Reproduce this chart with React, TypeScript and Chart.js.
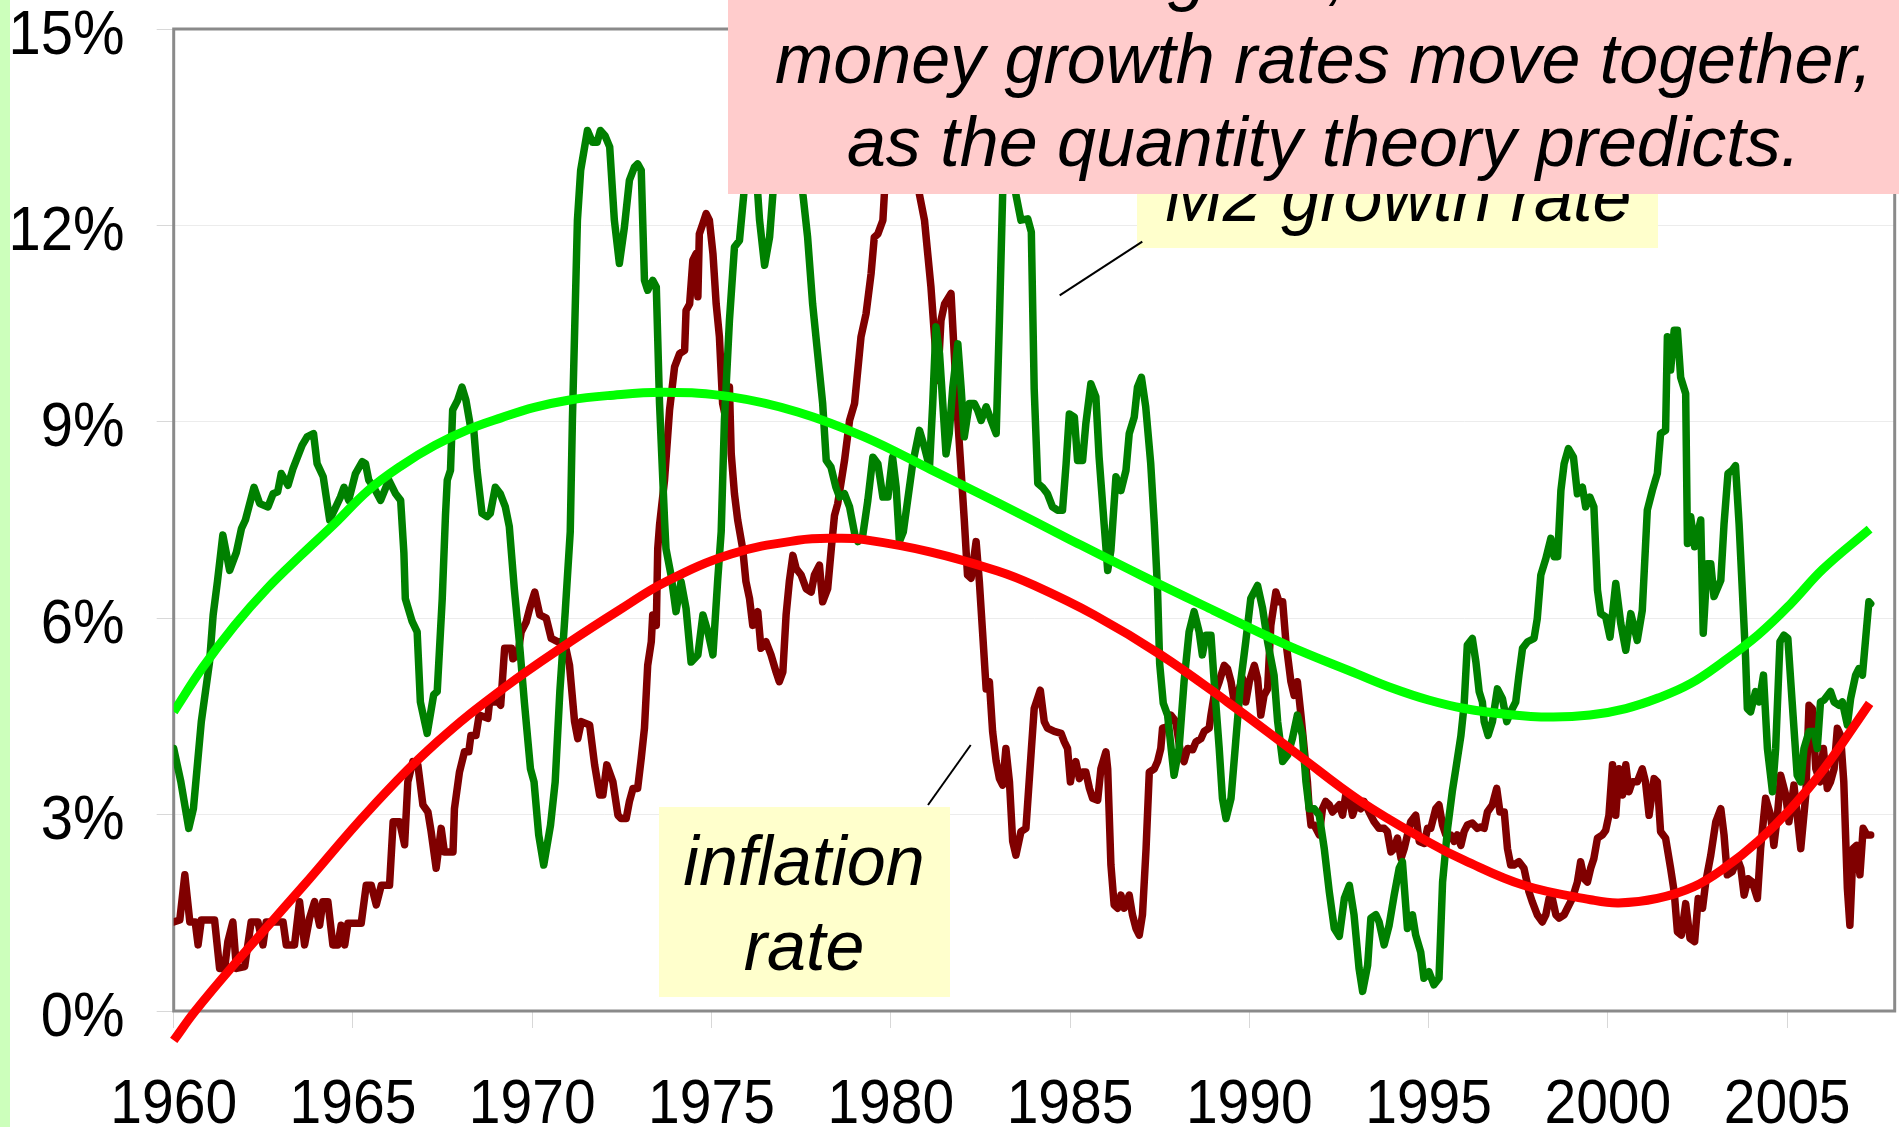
import React, { useEffect, useRef } from 'react';
import { Chart, registerables } from 'chart.js';

Chart.register(...registerables);

// ---- tick labels ----
const xTickYears = [1960, 1965, 1970, 1975, 1980, 1985, 1990, 1995, 2000, 2005];
const yTickValues = [0, 3, 6, 9, 12, 15];

// ---- M2 growth rate (year, % per year) ----
const m2Growth: [number, number][] = [
  [1960.0, 4.01], [1960.2, 3.5], [1960.42, 2.79], [1960.55, 3.09], [1960.77, 4.42], [1961.0, 5.33],
  [1961.1, 6.05], [1961.22, 6.56], [1961.37, 7.27], [1961.56, 6.73], [1961.75, 7.01], [1961.89, 7.37],
  [1962.0, 7.5], [1962.24, 8.0], [1962.4, 7.75], [1962.63, 7.7], [1962.77, 7.9], [1962.9, 7.93],
  [1963.0, 8.21], [1963.19, 8.03], [1963.33, 8.29], [1963.58, 8.64], [1963.72, 8.77], [1963.9, 8.82],
  [1964.0, 8.36], [1964.17, 8.16], [1964.35, 7.5], [1964.65, 7.85], [1964.75, 8.0], [1964.88, 7.8],
  [1965.07, 8.21], [1965.26, 8.39], [1965.35, 8.36], [1965.44, 8.11], [1965.58, 8.0], [1965.77, 7.8],
  [1966.0, 8.11], [1966.19, 7.9], [1966.33, 7.8], [1966.42, 7.0], [1966.46, 6.3], [1966.65, 5.95],
  [1966.79, 5.79], [1966.88, 4.72], [1967.07, 4.24], [1967.25, 4.83], [1967.35, 4.88], [1967.49, 6.3],
  [1967.58, 7.57], [1967.63, 8.11], [1967.72, 8.26], [1967.78, 9.18], [1967.92, 9.33], [1968.04, 9.53],
  [1968.15, 9.33], [1968.28, 8.92], [1968.37, 8.87], [1968.46, 8.26], [1968.6, 7.6], [1968.74, 7.55],
  [1968.83, 7.6], [1968.97, 8.0], [1969.11, 7.9], [1969.25, 7.7], [1969.36, 7.4], [1969.5, 6.45],
  [1969.64, 5.64], [1969.78, 4.72], [1969.95, 3.7], [1970.05, 3.5], [1970.18, 2.69], [1970.32, 2.23],
  [1970.51, 2.84], [1970.64, 3.5], [1970.77, 4.88], [1970.92, 6.1], [1971.06, 7.32], [1971.12, 9.02],
  [1971.26, 12.08], [1971.35, 12.84], [1971.54, 13.45], [1971.68, 13.27], [1971.81, 13.27], [1971.9, 13.45],
  [1972.03, 13.37], [1972.16, 13.2], [1972.29, 12.08], [1972.43, 11.42], [1972.57, 11.97], [1972.71, 12.69],
  [1972.85, 12.89], [1972.94, 12.94], [1973.04, 12.84], [1973.13, 11.16], [1973.22, 11.01], [1973.36, 11.16],
  [1973.46, 11.06], [1973.55, 9.28], [1973.69, 7.5], [1973.73, 7.06], [1973.87, 6.66], [1974.01, 6.1],
  [1974.15, 6.56], [1974.29, 6.15], [1974.43, 5.33], [1974.62, 5.44], [1974.76, 6.05], [1974.9, 5.79],
  [1975.04, 5.44], [1975.17, 6.56], [1975.27, 7.32], [1975.36, 9.02], [1975.5, 10.55], [1975.64, 11.67],
  [1975.78, 11.77], [1975.92, 12.59], [1976.1, 13.6], [1976.25, 12.8], [1976.34, 12.08], [1976.48, 11.39],
  [1976.62, 11.82], [1976.71, 12.47], [1976.9, 13.5], [1977.2, 14.0], [1977.45, 13.2], [1977.55, 12.47],
  [1977.68, 11.82], [1977.82, 10.8], [1977.96, 10.04], [1978.1, 9.28], [1978.2, 8.41], [1978.33, 8.31],
  [1978.47, 8.0], [1978.57, 7.85], [1978.71, 7.9], [1978.85, 7.7], [1979.0, 7.27], [1979.08, 7.17],
  [1979.22, 7.27], [1979.36, 7.8], [1979.5, 8.46], [1979.64, 8.36], [1979.78, 7.85], [1979.92, 7.85],
  [1980.05, 8.46], [1980.15, 8.0], [1980.24, 7.17], [1980.35, 7.32], [1980.61, 8.36], [1980.8, 8.87],
  [1980.94, 8.61], [1981.08, 8.31], [1981.17, 9.28], [1981.26, 10.45], [1981.36, 10.04], [1981.45, 9.28],
  [1981.54, 8.51], [1981.63, 8.82], [1981.73, 9.53], [1981.87, 10.19], [1981.96, 9.53], [1982.05, 8.77],
  [1982.19, 9.28], [1982.33, 9.28], [1982.42, 9.18], [1982.52, 9.02], [1982.66, 9.23], [1982.8, 9.02],
  [1982.94, 8.82], [1983.03, 10.55], [1983.12, 12.47], [1983.25, 13.2], [1983.4, 12.9], [1983.49, 12.47],
  [1983.63, 12.08], [1983.82, 12.1], [1983.92, 11.9], [1984.0, 9.5], [1984.1, 8.06], [1984.23, 8.0],
  [1984.37, 7.9], [1984.51, 7.7], [1984.65, 7.65], [1984.79, 7.65], [1984.89, 8.36], [1984.98, 9.12],
  [1985.12, 9.07], [1985.21, 8.41], [1985.35, 8.41], [1985.44, 8.97], [1985.58, 9.58], [1985.72, 9.38],
  [1985.81, 8.46], [1985.95, 7.44], [1986.05, 6.73], [1986.14, 7.04], [1986.28, 8.16], [1986.42, 7.95],
  [1986.56, 8.26], [1986.65, 8.82], [1986.79, 9.07], [1986.88, 9.53], [1986.99, 9.68], [1987.11, 9.23],
  [1987.25, 8.36], [1987.35, 7.44], [1987.44, 6.43], [1987.5, 5.3], [1987.6, 4.7], [1987.72, 4.52],
  [1987.9, 3.6], [1988.04, 4.01], [1988.18, 5.03], [1988.32, 5.79], [1988.46, 6.1], [1988.6, 5.79],
  [1988.69, 5.44], [1988.79, 5.74], [1988.93, 5.74], [1989.02, 5.03], [1989.16, 4.01], [1989.25, 3.25],
  [1989.35, 2.94], [1989.49, 3.25], [1989.62, 4.11], [1989.76, 5.03], [1989.9, 5.64], [1990.04, 6.3],
  [1990.23, 6.5], [1990.37, 6.15], [1990.51, 5.64], [1990.69, 5.13], [1990.79, 4.42], [1990.93, 3.81],
  [1991.07, 3.91], [1991.2, 4.16], [1991.34, 4.52], [1991.48, 4.21], [1991.58, 3.5], [1991.67, 3.09],
  [1991.81, 3.09], [1991.95, 2.99], [1992.09, 2.48], [1992.23, 1.82], [1992.37, 1.26], [1992.51, 1.14],
  [1992.65, 1.72], [1992.79, 1.92], [1992.92, 1.47], [1993.06, 0.65], [1993.16, 0.3], [1993.3, 0.7],
  [1993.39, 1.42], [1993.53, 1.47], [1993.62, 1.36], [1993.76, 1.01], [1993.9, 1.31], [1994.04, 1.77],
  [1994.18, 2.18], [1994.27, 2.28], [1994.41, 1.26], [1994.55, 1.47], [1994.64, 1.16], [1994.78, 0.9],
  [1994.87, 0.5], [1995.01, 0.6], [1995.15, 0.4], [1995.29, 0.5], [1995.39, 1.97], [1995.53, 2.79],
  [1995.66, 3.35], [1995.76, 3.7], [1995.9, 4.2], [1995.99, 4.67], [1996.08, 5.59], [1996.22, 5.69],
  [1996.32, 5.33], [1996.41, 4.88], [1996.5, 4.72], [1996.55, 4.42], [1996.66, 4.21], [1996.78, 4.42],
  [1996.92, 4.92], [1997.06, 4.77], [1997.18, 4.42], [1997.29, 4.57], [1997.43, 4.72], [1997.52, 5.13],
  [1997.62, 5.54], [1997.76, 5.64], [1997.94, 5.69], [1998.03, 5.99], [1998.13, 6.66], [1998.27, 6.91],
  [1998.41, 7.22], [1998.5, 6.94], [1998.6, 6.94], [1998.69, 7.95], [1998.78, 8.36], [1998.9, 8.59],
  [1999.04, 8.46], [1999.15, 7.9], [1999.29, 8.0], [1999.38, 7.7], [1999.5, 7.85], [1999.61, 7.7],
  [1999.71, 6.43], [1999.8, 6.07], [1999.94, 6.02], [2000.06, 5.71], [2000.22, 6.53], [2000.36, 5.92],
  [2000.5, 5.51], [2000.64, 6.07], [2000.82, 5.66], [2000.96, 6.12], [2001.1, 7.65], [2001.24, 7.95],
  [2001.38, 8.21], [2001.47, 8.82], [2001.61, 8.87], [2001.66, 10.3], [2001.75, 9.79], [2001.85, 10.4],
  [2001.94, 10.4], [2002.03, 9.68], [2002.17, 9.43], [2002.22, 7.14], [2002.31, 7.55], [2002.42, 7.09],
  [2002.59, 7.5], [2002.66, 5.77], [2002.77, 6.83], [2002.87, 6.83], [2002.96, 6.33], [2003.15, 6.58],
  [2003.24, 7.44], [2003.35, 8.21], [2003.47, 8.26], [2003.56, 8.33], [2003.66, 7.44], [2003.75, 6.43],
  [2003.84, 5.41], [2003.89, 4.62], [2003.98, 4.57], [2004.12, 4.88], [2004.22, 4.72], [2004.34, 5.13],
  [2004.45, 4.01], [2004.59, 3.35], [2004.68, 4.01], [2004.8, 5.64], [2004.91, 5.74], [2005.02, 5.69],
  [2005.14, 4.72], [2005.28, 3.6], [2005.38, 3.5], [2005.47, 4.01], [2005.61, 4.27], [2005.75, 4.27],
  [2005.84, 4.01], [2005.93, 4.72], [2006.03, 4.75], [2006.21, 4.88], [2006.31, 4.72], [2006.45, 4.67],
  [2006.54, 4.72], [2006.68, 4.37], [2006.77, 4.77], [2006.91, 5.13], [2007.0, 5.23], [2007.1, 5.13],
  [2007.19, 5.69], [2007.28, 6.25], [2007.33, 6.22],
];

// ---- inflation rate (year, % per year) ----
const inflation: [number, number][] = [
  [1960.0, 1.36], [1960.17, 1.39], [1960.31, 2.08], [1960.45, 1.36], [1960.6, 1.36], [1960.68, 1.01],
  [1960.77, 1.39], [1961.14, 1.39], [1961.28, 0.65], [1961.42, 0.65], [1961.51, 1.06], [1961.65, 1.36],
  [1961.75, 0.65], [1961.98, 0.68], [1962.16, 1.36], [1962.35, 1.36], [1962.49, 1.01], [1962.58, 1.36],
  [1963.05, 1.36], [1963.14, 1.01], [1963.37, 1.01], [1963.51, 1.67], [1963.65, 1.01], [1963.79, 1.42],
  [1963.93, 1.67], [1964.07, 1.31], [1964.16, 1.67], [1964.3, 1.67], [1964.44, 1.01], [1964.58, 1.01],
  [1964.67, 1.31], [1964.77, 1.01], [1964.86, 1.34], [1965.23, 1.34], [1965.37, 1.92], [1965.51, 1.92],
  [1965.65, 1.62], [1965.79, 1.92], [1966.02, 1.92], [1966.12, 2.89], [1966.3, 2.89], [1966.44, 2.54],
  [1966.53, 3.5], [1966.67, 3.81], [1966.81, 3.76], [1966.95, 3.15], [1967.09, 3.04], [1967.18, 2.74],
  [1967.32, 2.18], [1967.46, 2.79], [1967.55, 2.43], [1967.79, 2.43], [1967.83, 3.09], [1967.97, 3.65],
  [1968.11, 3.96], [1968.23, 3.96], [1968.29, 4.21], [1968.43, 4.21], [1968.52, 4.52], [1968.76, 4.47],
  [1968.81, 4.72], [1969.05, 4.72], [1969.12, 4.67], [1969.23, 5.54], [1969.42, 5.54], [1969.46, 5.38],
  [1969.6, 5.44], [1969.69, 5.79], [1969.83, 5.94], [1969.93, 6.15], [1970.07, 6.4], [1970.21, 6.05],
  [1970.39, 6.0], [1970.53, 5.69], [1970.72, 5.64], [1970.9, 5.64], [1971.04, 5.28], [1971.18, 4.42],
  [1971.27, 4.16], [1971.37, 4.42], [1971.6, 4.37], [1971.74, 3.76], [1971.88, 3.3], [1971.97, 3.3],
  [1972.08, 3.76], [1972.25, 3.5], [1972.39, 2.99], [1972.48, 2.94], [1972.62, 2.94], [1972.71, 3.2],
  [1972.81, 3.4], [1972.94, 3.4], [1973.04, 3.86], [1973.13, 4.32], [1973.22, 5.28], [1973.32, 5.64],
  [1973.36, 6.05], [1973.46, 5.89], [1973.5, 7.06], [1973.55, 7.42], [1973.69, 8.11], [1973.83, 9.18],
  [1973.97, 9.84], [1974.11, 10.04], [1974.25, 10.09], [1974.29, 10.7], [1974.39, 10.8], [1974.48, 11.47],
  [1974.57, 11.57], [1974.62, 10.91], [1974.66, 11.87], [1974.76, 12.03], [1974.85, 12.18], [1974.94, 12.08],
  [1975.04, 11.57], [1975.13, 10.8], [1975.22, 10.3], [1975.31, 9.28], [1975.41, 9.02], [1975.5, 9.53],
  [1975.55, 8.51], [1975.64, 7.9], [1975.73, 7.5], [1975.87, 7.06], [1975.96, 6.56], [1976.06, 6.3],
  [1976.15, 5.89], [1976.29, 6.1], [1976.38, 5.54], [1976.52, 5.64], [1976.66, 5.44], [1976.8, 5.18],
  [1976.89, 5.03], [1976.99, 5.18], [1977.08, 6.05], [1977.17, 6.56], [1977.27, 6.96], [1977.36, 6.76],
  [1977.5, 6.66], [1977.64, 6.45], [1977.78, 6.4], [1977.87, 6.66], [1978.01, 6.81], [1978.1, 6.25],
  [1978.24, 6.45], [1978.34, 7.06], [1978.43, 7.57], [1978.52, 7.75], [1978.71, 8.41], [1978.85, 9.02],
  [1978.99, 9.28], [1979.17, 10.3], [1979.31, 10.65], [1979.45, 11.26], [1979.54, 11.82], [1979.64, 11.87],
  [1979.78, 12.08], [1979.82, 12.47], [1980.05, 13.8], [1980.25, 14.6], [1980.5, 13.9], [1980.8, 12.47],
  [1980.94, 12.08], [1981.03, 11.57], [1981.12, 11.06], [1981.22, 10.3], [1981.31, 9.63], [1981.4, 10.55],
  [1981.5, 10.8], [1981.68, 10.96], [1981.77, 10.04], [1981.87, 9.02], [1981.96, 8.26], [1982.05, 7.5],
  [1982.14, 6.66], [1982.24, 6.61], [1982.38, 7.17], [1982.47, 6.56], [1982.56, 5.79], [1982.66, 4.92],
  [1982.75, 5.03], [1982.84, 4.27], [1982.94, 3.81], [1983.03, 3.55], [1983.12, 3.45], [1983.21, 4.01],
  [1983.31, 3.5], [1983.4, 2.59], [1983.49, 2.38], [1983.63, 2.74], [1983.77, 2.79], [1983.91, 3.91],
  [1984.0, 4.62], [1984.17, 4.9], [1984.28, 4.42], [1984.37, 4.32], [1984.56, 4.27], [1984.75, 4.24],
  [1984.84, 4.11], [1984.93, 4.01], [1985.01, 3.5], [1985.07, 3.7], [1985.16, 3.81], [1985.26, 3.55],
  [1985.35, 3.65], [1985.44, 3.65], [1985.54, 3.4], [1985.63, 3.25], [1985.77, 3.22], [1985.86, 3.7],
  [1986.0, 3.96], [1986.05, 3.7], [1986.14, 2.23], [1986.23, 1.62], [1986.33, 1.57], [1986.42, 1.77],
  [1986.51, 1.57], [1986.65, 1.77], [1986.74, 1.47], [1986.84, 1.26], [1986.93, 1.16], [1987.02, 1.47],
  [1987.12, 2.48], [1987.21, 3.65], [1987.35, 3.7], [1987.44, 3.81], [1987.53, 4.01], [1987.58, 4.32],
  [1987.72, 4.34], [1987.81, 4.52], [1987.95, 4.42], [1988.09, 3.91], [1988.18, 3.81], [1988.28, 4.01],
  [1988.42, 3.99], [1988.51, 4.11], [1988.65, 4.16], [1988.74, 4.27], [1988.88, 4.32], [1988.93, 4.52],
  [1989.02, 4.82], [1989.16, 5.03], [1989.3, 5.28], [1989.39, 5.23], [1989.49, 5.03], [1989.58, 4.72],
  [1989.72, 4.92], [1989.81, 5.08], [1989.9, 4.72], [1990.0, 5.03], [1990.14, 5.28], [1990.23, 5.08],
  [1990.32, 4.52], [1990.41, 4.82], [1990.51, 4.92], [1990.6, 5.89], [1990.74, 6.4], [1990.83, 6.25],
  [1990.93, 6.25], [1991.02, 5.64], [1991.16, 5.03], [1991.25, 4.82], [1991.34, 5.03], [1991.44, 4.52],
  [1991.53, 4.01], [1991.62, 3.5], [1991.67, 3.09], [1991.72, 2.84], [1991.81, 2.84], [1991.95, 2.69],
  [1992.04, 3.09], [1992.13, 3.2], [1992.23, 3.15], [1992.32, 3.04], [1992.41, 3.09], [1992.51, 3.15],
  [1992.6, 2.99], [1992.69, 3.3], [1992.79, 3.25], [1992.88, 2.99], [1992.97, 3.15], [1993.11, 3.09],
  [1993.2, 3.2], [1993.34, 3.04], [1993.48, 2.89], [1993.62, 2.79], [1993.76, 2.79], [1993.85, 2.74],
  [1993.95, 2.43], [1994.04, 2.48], [1994.13, 2.64], [1994.23, 2.33], [1994.32, 2.48], [1994.41, 2.69],
  [1994.5, 2.89], [1994.64, 2.99], [1994.74, 2.59], [1994.88, 2.56], [1994.97, 2.79], [1995.06, 2.79],
  [1995.2, 3.09], [1995.29, 3.15], [1995.39, 2.84], [1995.48, 2.69], [1995.62, 2.69], [1995.71, 2.59],
  [1995.8, 2.69], [1995.9, 2.53], [1995.99, 2.74], [1996.08, 2.84], [1996.22, 2.87], [1996.36, 2.79],
  [1996.45, 2.81], [1996.55, 2.79], [1996.64, 3.04], [1996.78, 3.15], [1996.9, 3.4], [1996.99, 3.04],
  [1997.11, 3.04], [1997.2, 2.48], [1997.29, 2.23], [1997.38, 2.23], [1997.52, 2.28], [1997.66, 2.18],
  [1997.8, 1.82], [1997.89, 1.67], [1998.03, 1.47], [1998.17, 1.36], [1998.27, 1.47], [1998.36, 1.72],
  [1998.45, 1.72], [1998.55, 1.47], [1998.64, 1.42], [1998.78, 1.47], [1998.87, 1.57], [1999.01, 1.72],
  [1999.15, 1.97], [1999.24, 2.28], [1999.34, 2.02], [1999.43, 1.97], [1999.52, 2.18], [1999.61, 2.33],
  [1999.71, 2.64], [1999.85, 2.69], [1999.94, 2.76], [2000.03, 2.99], [2000.13, 3.76], [2000.22, 2.99],
  [2000.31, 3.7], [2000.41, 3.3], [2000.5, 3.76], [2000.59, 3.35], [2000.68, 3.5], [2000.82, 3.5],
  [2000.96, 3.7], [2001.05, 3.5], [2001.15, 2.99], [2001.29, 3.55], [2001.38, 3.5], [2001.47, 2.74],
  [2001.61, 2.64], [2001.75, 2.18], [2001.85, 1.82], [2001.94, 1.21], [2002.05, 1.16], [2002.17, 1.64],
  [2002.29, 1.11], [2002.42, 1.06], [2002.52, 1.72], [2002.64, 1.57], [2002.73, 1.97], [2002.87, 2.38],
  [2003.01, 2.89], [2003.15, 3.09], [2003.24, 2.69], [2003.33, 2.08], [2003.47, 2.13], [2003.61, 2.33],
  [2003.71, 2.18], [2003.8, 1.77], [2003.91, 2.02], [2004.03, 1.97], [2004.17, 1.72], [2004.26, 2.48],
  [2004.4, 3.25], [2004.54, 2.99], [2004.63, 2.53], [2004.73, 2.99], [2004.82, 3.6], [2004.96, 3.3],
  [2005.05, 2.89], [2005.19, 3.45], [2005.38, 2.48], [2005.52, 3.3], [2005.61, 4.67], [2005.7, 4.62],
  [2005.8, 3.7], [2005.92, 3.5], [2006.01, 4.01], [2006.12, 3.4], [2006.21, 3.5], [2006.31, 3.7],
  [2006.4, 4.32], [2006.49, 4.21], [2006.58, 3.5], [2006.68, 1.87], [2006.75, 1.31], [2006.84, 2.48],
  [2006.94, 2.53], [2007.03, 2.08], [2007.12, 2.79], [2007.22, 2.69], [2007.33, 2.69],
];

// ---- smooth trend curves ----
const m2Trend: [number, number][] = [
  [1960.0, 4.57], [1960.8, 5.24], [1961.7, 5.89], [1962.6, 6.45], [1963.55, 6.96], [1964.5, 7.45],
  [1965.42, 7.95], [1966.35, 8.33], [1967.28, 8.64], [1968.21, 8.88], [1969.13, 9.06], [1970.06, 9.22],
  [1971.0, 9.33], [1972.1, 9.4], [1973.7, 9.45], [1975.55, 9.38], [1977.4, 9.15], [1979.26, 8.77],
  [1981.12, 8.27], [1983.0, 7.76], [1985.0, 7.2], [1987.0, 6.65], [1989.0, 6.12], [1991.0, 5.6],
  [1993.0, 5.15], [1994.0, 4.93], [1995.0, 4.75], [1996.0, 4.62], [1997.2, 4.53], [1998.4, 4.49],
  [1999.5, 4.52], [2000.5, 4.62], [2001.4, 4.78], [2002.3, 5.0], [2003.2, 5.33], [2004.2, 5.75],
  [2005.1, 6.22], [2006.0, 6.75], [2007.3, 7.36],
];

const inflationTrend: [number, number][] = [
  [1960.0, -0.45], [1960.6, 0.0], [1961.7, 0.72], [1963.63, 1.92], [1965.49, 3.09], [1967.35, 4.11],
  [1969.2, 4.93], [1971.06, 5.64], [1972.5, 6.15], [1973.7, 6.55], [1975.55, 6.98], [1977.41, 7.19],
  [1978.5, 7.22], [1979.26, 7.2], [1981.12, 7.01], [1982.98, 6.72], [1984.0, 6.5], [1985.67, 6.05],
  [1987.53, 5.44], [1989.39, 4.72], [1991.25, 3.96], [1993.11, 3.2], [1995.0, 2.58], [1996.0, 2.3],
  [1997.66, 1.92], [1999.52, 1.7], [2000.3, 1.65], [2001.38, 1.72], [2002.4, 1.9], [2003.24, 2.18],
  [2004.2, 2.6], [2005.1, 3.09], [2006.03, 3.7], [2007.3, 4.7],
];

const FONT = "'Liberation Sans', Arial, Helvetica, sans-serif";
const toPoints = (arr: [number, number][]) => arr.map(([x, y]) => ({ x, y }));

const plotBorder = {
  id: 'plotBorder',
  beforeDatasetsDraw(chart: any) {
    const { ctx, chartArea: a } = chart;
    ctx.save();
    ctx.strokeStyle = '#8a8a8a';
    ctx.lineWidth = 3;
    ctx.strokeRect(a.left, a.top, a.right - a.left, a.bottom - a.top);
    ctx.restore();
  },
};

// Axis labels: positioned by the chart's own scales, drawn slightly taller like the slide font
const axisLabels = {
  id: 'axisLabels',
  afterDraw(chart: any) {
    const { ctx } = chart;
    const xs = chart.scales.x;
    const ys = chart.scales.y;
    ctx.save();
    ctx.fillStyle = '#000';
    ctx.textBaseline = 'alphabetic';

    ctx.font = `57px ${FONT}`;
    ctx.textAlign = 'center';
    xs.ticks.forEach((t: any) => {
      const px = xs.getPixelForValue(t.value);
      ctx.save();
      ctx.translate(px, 1123);
      ctx.scale(1, 1.12);
      ctx.fillText(String(t.value), 0, 0);
      ctx.restore();
    });

    ctx.font = `58px ${FONT}`;
    ctx.textAlign = 'right';
    ys.ticks.forEach((t: any) => {
      const py = ys.getPixelForValue(t.value);
      ctx.save();
      ctx.translate(124.5, py + 24.5);
      ctx.scale(1, 1.08);
      ctx.fillText(`${t.value}%`, 0, 0);
      ctx.restore();
    });
    ctx.restore();
  },
};

function TextLine(props: { text: string; cx: number; baseline: number; size: number }) {
  const { text, cx, baseline, size } = props;
  return (
    <div
      style={{
        position: 'absolute',
        left: cx,
        top: baseline - 0.8465 * size,
        transform: 'translateX(-50%)',
        fontFamily: FONT,
        fontStyle: 'italic',
        fontSize: size,
        lineHeight: `${size}px`,
        whiteSpace: 'nowrap',
        color: '#000',
      }}
    >
      {text}
    </div>
  );
}

export default function App() {
  const canvasRef = useRef<HTMLCanvasElement | null>(null);

  useEffect(() => {
    if (!canvasRef.current) return;
    const chart = new Chart(canvasRef.current, {
      type: 'line',
      data: {
        datasets: [
          {
            label: 'M2 trend',
            data: toPoints(m2Trend),
            borderColor: '#00ff00',
            borderWidth: 9,
            pointRadius: 0,
            tension: 0.4,
            fill: false,
          },
          {
            label: 'Inflation trend',
            data: toPoints(inflationTrend),
            borderColor: '#ff0000',
            borderWidth: 9,
            pointRadius: 0,
            tension: 0.4,
            fill: false,
            clip: false,
          },
          {
            label: 'M2 growth rate',
            data: toPoints(m2Growth),
            borderColor: '#008000',
            borderWidth: 7.5,
            pointRadius: 0,
            tension: 0,
            borderJoinStyle: 'round',
            borderCapStyle: 'round',
            fill: false,
          },
          {
            label: 'inflation rate',
            data: toPoints(inflation),
            borderColor: '#800000',
            borderWidth: 7.5,
            pointRadius: 0,
            tension: 0,
            borderJoinStyle: 'round',
            borderCapStyle: 'round',
            fill: false,
          },
        ],
      },
      options: {
        animation: false,
        responsive: false,
        events: [],
        layout: { padding: { left: 0, top: 29, right: 4.3, bottom: 0 } },
        plugins: { legend: { display: false }, tooltip: { enabled: false } },
        scales: {
          x: {
            type: 'linear',
            min: 1960,
            max: 2008,
            afterBuildTicks: (s: any) => {
              s.ticks = xTickYears.map((v) => ({ value: v }));
            },
            afterFit: (s: any) => {
              s.height = 116;
              s.paddingLeft = 0;
              s.paddingRight = 0;
            },
            border: { display: false },
            grid: {
              drawOnChartArea: false,
              drawTicks: true,
              tickLength: 17,
              tickColor: '#d8d8d8',
              lineWidth: 1,
            },
            ticks: { display: false, autoSkip: false, maxRotation: 0, minRotation: 0 },
          },
          y: {
            type: 'linear',
            min: 0,
            max: 15,
            afterBuildTicks: (s: any) => {
              s.ticks = yTickValues.map((v) => ({ value: v }));
            },
            afterFit: (s: any) => {
              s.width = 173.7;
              s.paddingTop = 0;
              s.paddingBottom = 0;
            },
            border: { display: false },
            grid: {
              drawOnChartArea: true,
              drawTicks: true,
              tickLength: 17,
              color: '#ececec',
              tickColor: '#d8d8d8',
              lineWidth: 1,
            },
            ticks: { display: false },
          },
        },
      },
      plugins: [plotBorder, axisLabels],
    } as any);
    return () => chart.destroy();
  }, []);

  return (
    <div
      style={{
        position: 'fixed',
        left: 0,
        top: 0,
        width: 1899,
        height: 1127,
        overflow: 'hidden',
        background: '#ffffff',
      }}
    >
      <canvas
        ref={canvasRef}
        width={1899}
        height={1127}
        style={{ position: 'absolute', left: 0, top: 0, width: 1899, height: 1127 }}
      />
      {/* slide edge strip */}
      <div style={{ position: 'absolute', left: 0, top: 0, width: 10, height: 1127, background: '#ccffbb' }} />

      {/* M2 label */}
      <div
        style={{ position: 'absolute', left: 1137, top: 140, width: 521, height: 108, background: '#ffffcc' }}
      />
      <TextLine text="M2 growth rate" cx={1398} baseline={221.7} size={70} />

      {/* inflation label */}
      <div
        style={{ position: 'absolute', left: 658.5, top: 806.6, width: 291.5, height: 190, background: '#ffffcc' }}
      />
      <TextLine text="inflation" cx={804} baseline={885} size={70} />
      <TextLine text="rate" cx={804} baseline={970} size={70} />

      {/* headline box */}
      <div
        style={{ position: 'absolute', left: 728, top: 0, width: 1171, height: 194, background: '#ffcccc', overflow: 'hidden' }}
      >
        <TextLine text="Over the long run, the inflation and" cx={595.6} baseline={-3} size={70} />
        <TextLine text="money growth rates move together," cx={595.6} baseline={83.3} size={70} />
        <TextLine text="as the quantity theory predicts." cx={595.6} baseline={166.7} size={70} />
      </div>

      {/* leader lines */}
      <svg
        width={1899}
        height={1127}
        style={{ position: 'absolute', left: 0, top: 0, pointerEvents: 'none' }}
      >
        <line x1={1142.3} y1={241.7} x2={1059.7} y2={295.3} stroke="#000" strokeWidth={2} />
        <line x1={928} y1={805} x2={970.7} y2={745} stroke="#000" strokeWidth={2} />
      </svg>
    </div>
  );
}
